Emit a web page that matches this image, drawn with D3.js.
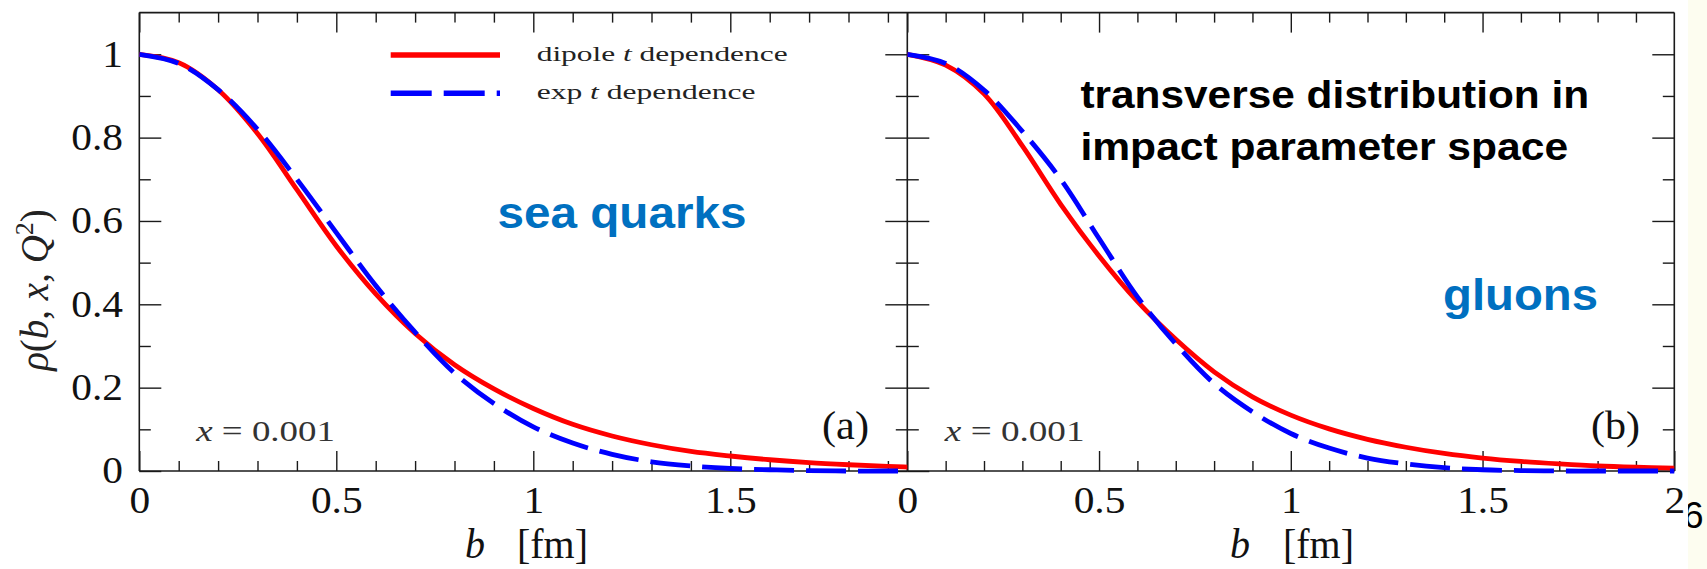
<!DOCTYPE html>
<html><head><meta charset="utf-8">
<script src="https://cdn.jsdelivr.net/npm/d3@7"></script>
<style>body{margin:0;background:#fff;} svg{display:block}</style>
</head><body>
<svg id="c" width="1707" height="569"></svg>
<script>
// ---------- data ----------
const bValues = [0,0.1,0.2,0.3,0.4,0.5,0.6,0.7,0.8,0.9,1.0,1.1,1.2,1.3,1.4,1.5,1.6,1.7,1.8,1.9,2.0];
const seaDipole = [1.0,0.98,0.915,0.81,0.675,0.54,0.425,0.33,0.255,0.197,0.15,0.112,0.084,0.063,0.047,0.036,0.027,0.02,0.015,0.011,0.008];
const seaExp    = [1.0,0.978,0.915,0.82,0.70,0.572,0.445,0.333,0.235,0.162,0.106,0.067,0.04,0.022,0.012,0.006,0.003,0.001,0,0,0];
const gluonDipole = [1.0,0.974,0.905,0.78,0.64,0.516,0.407,0.316,0.238,0.178,0.134,0.101,0.076,0.057,0.042,0.031,0.023,0.017,0.012,0.009,0.007];
const gluonExp    = [1.0,0.978,0.914,0.815,0.70,0.558,0.418,0.305,0.21,0.142,0.09,0.055,0.031,0.017,0.008,0.003,0.001,0,0,0,0];
const xMajorLeft = [0,0.5,1,1.5];
const xMajorRight = [0,0.5,1,1.5,2];
const xMinor = [0.1,0.2,0.3,0.4,0.6,0.7,0.8,0.9,1.1,1.2,1.3,1.4,1.6,1.7,1.8,1.9];
const yMajor = [0,0.2,0.4,0.6,0.8,1];
const yMinor = [0.1,0.3,0.5,0.7,0.9];
const legendLabels = ["dipole", "exp"];
const panelTags = ["(a)", "(b)"];
const panelNames = ["sea quarks", "gluons"];
const xNote = "0.001";

// ---------- setup ----------
const svg = d3.select('#c');
svg.append('rect').attr('width',1707).attr('height',569).attr('fill','#fdfdf0');
svg.append('text').attr('x',1683).attr('y',528).attr('font-family','Liberation Sans, Arial, sans-serif')
   .attr('font-size',37).attr('fill','#000').text('6');
svg.append('rect').attr('width',1688).attr('height',569).attr('fill','#fff');

const SERIF = 'Liberation Serif, Times New Roman, serif';
const SANS = 'Liberation Sans, Arial, sans-serif';
const TS = 1.12; // horizontal stretch of tick labels
const y = d3.scaleLinear().domain([0,1.1]).range([471,12.6]);
const xL = d3.scaleLinear().domain([0,2]).range([139.3,927.3]);
const xR = d3.scaleLinear().domain([0,2]).range([907.3,1674.3]);
const leftEdge = 139.3, midEdge = 907.3, rightEdge = 1674.3;

const defs = svg.append('defs');
defs.append('clipPath').attr('id','clipL').append('rect').attr('x',leftEdge).attr('y',0).attr('width',midEdge-leftEdge).attr('height',569);
defs.append('clipPath').attr('id','clipR').append('rect').attr('x',midEdge).attr('y',0).attr('width',rightEdge-midEdge+1).attr('height',569);

function styleAxis(g){
  g.select('.domain').remove();
  g.selectAll('.tick line').attr('stroke','#1a1a1a').attr('stroke-width',1.4);
  g.selectAll('.tick text').attr('font-family',SERIF).attr('font-size',37).attr('fill','#111');
}
const fmt = d => String(d);
const none = () => '';

function xAxes(x, majors){
  const gb = svg.append('g');
  const lab = gb.append('g').attr('transform',`translate(0,${y(0)})`)
    .call(d3.axisBottom(x).tickValues(majors).tickSize(-20).tickPadding(15.7).tickFormat(fmt)).call(styleAxis);
  lab.selectAll('.tick text').attr('transform',`scale(${TS},1)`);
  gb.append('g').attr('transform',`translate(0,${y(0)})`)
    .call(d3.axisBottom(x).tickValues(xMinor).tickSize(-10).tickFormat(none)).call(styleAxis);
  gb.append('g').attr('transform',`translate(0,${y(1.1)})`)
    .call(d3.axisTop(x).tickValues(majors.filter(v=>v<2)).tickSize(-20).tickFormat(none)).call(styleAxis);
  gb.append('g').attr('transform',`translate(0,${y(1.1)})`)
    .call(d3.axisTop(x).tickValues(xMinor).tickSize(-10).tickFormat(none)).call(styleAxis);
}
function yTicks(xpos, size, labels){
  const g1 = svg.append('g').attr('transform',`translate(${xpos},0)`)
    .call(d3.axisLeft(y).tickValues(yMajor).tickSize(size*22).tickPadding(16.3).tickFormat(labels?fmt:none)).call(styleAxis);
  svg.append('g').attr('transform',`translate(${xpos},0)`)
    .call(d3.axisLeft(y).tickValues(yMinor).tickSize(size*11.5).tickFormat(none)).call(styleAxis);
  if(labels){ g1.selectAll('.tick text').attr('x',-16.3/TS).attr('dy','0.32em').attr('transform',`scale(${TS},1)`); }
}

xAxes(xL, xMajorLeft);
xAxes(xR, xMajorRight);
yTicks(leftEdge, -1, true);
yTicks(midEdge, 1, false);
yTicks(midEdge, -1, false);
yTicks(rightEdge, 1, false);

// frame lines
const frame = svg.append('g').attr('stroke','#1a1a1a').attr('stroke-width',1.6);
[[leftEdge,rightEdge,y(0),y(0)],[leftEdge,rightEdge,y(1.1),y(1.1)],
 [leftEdge,leftEdge,y(0),y(1.1)],[midEdge,midEdge,y(0),y(1.1)],[rightEdge,rightEdge,y(0),y(1.1)]]
 .forEach(([x1,x2,y1,y2])=>frame.append('line').attr('x1',x1).attr('x2',x2).attr('y1',y1).attr('y2',y2));

// curves
function drawCurves(x, dip, ex, clipId){
  const line = d3.line().x((d,i)=>x(bValues[i])).y(d=>y(d)).curve(d3.curveCatmullRom.alpha(0.5));
  const g = svg.append('g').attr('clip-path',`url(#${clipId})`).attr('fill','none');
  g.append('path').attr('d',line(dip)).attr('stroke','#ff0000').attr('stroke-width',4.8);
  g.append('path').attr('d',line(ex)).attr('stroke','#0000ff').attr('stroke-width',4.8).attr('stroke-dasharray','40,12');
}
drawCurves(xL, seaDipole, seaExp, 'clipL');
drawCurves(xR, gluonDipole, gluonExp, 'clipR');

// helper: place a text, stretched horizontally to a measured width
function place(sel, x, yy, w){
  const bb = sel.node().getBBox();
  const s = w/bb.width;
  sel.attr('transform',`translate(${x - bb.x*s},${yy}) scale(${s},1)`);
  return sel;
}

// legend
const legY = [55, 93.3];
svg.append('line').attr('x1',390.7).attr('x2',500).attr('y1',legY[0]).attr('y2',legY[0])
   .attr('stroke','#ff0000').attr('stroke-width',5.5);
svg.append('line').attr('x1',390.7).attr('x2',500).attr('y1',legY[1]).attr('y2',legY[1])
   .attr('stroke','#0000ff').attr('stroke-width',5.5).attr('stroke-dasharray','41,12');
[[legendLabels[0],251],[legendLabels[1],219]].forEach(([lab,w],i)=>{
  const t = svg.append('text').attr('font-family',SERIF).attr('font-size',21).attr('fill','#222');
  t.append('tspan').text(lab+' ');
  t.append('tspan').attr('font-style','italic').text('t');
  t.append('tspan').text(' dependence');
  place(t, 536.7, legY[i]+5.5, w);
});

// x = 0.001 notes
[[195,140],[943.6,141]].forEach(([x0,w])=>{
  const t = svg.append('text').attr('font-family',SERIF).attr('font-size',30).attr('fill','#333').attr('xml:space','preserve');
  t.append('tspan').attr('font-style','italic').text('x');
  t.append('tspan').text(' = '+xNote);
  place(t, x0, 440.7, w);
});

// panel tags
[[822,47],[1591,49]].forEach(([x0,w],i)=>{
  const t = svg.append('text').attr('font-family',SERIF).attr('font-size',40).attr('fill','#111').text(panelTags[i]);
  place(t, x0, 439, w);
});

// axis titles
[[465,517],[1230,1283]].forEach(([xb,xf])=>{
  const t1 = svg.append('text').attr('font-family',SERIF).attr('font-size',42).attr('font-style','italic').attr('fill','#111').text('b');
  place(t1, xb, 558, 20);
  const t2 = svg.append('text').attr('font-family',SERIF).attr('font-size',42).attr('fill','#111').text('[fm]');
  place(t2, xf, 558, 71);
});
{
  const t = svg.append('text').attr('font-family',SERIF).attr('font-size',39).attr('fill','#222')
    .attr('text-anchor','middle').attr('transform','translate(48,290) rotate(-90)');
  t.append('tspan').attr('font-style','italic').text('ρ');
  t.append('tspan').text('(');
  t.append('tspan').attr('font-style','italic').text('b');
  t.append('tspan').text(', ');
  t.append('tspan').attr('font-style','italic').text('x');
  t.append('tspan').text(', ');
  t.append('tspan').attr('font-style','italic').text('Q');
  t.append('tspan').attr('font-size',26).attr('dy',-15).text('2');
  t.append('tspan').attr('dy',15).text(')');
}

// annotations
place(svg.append('text').attr('font-family',SANS).attr('font-weight','bold').attr('font-size',45).attr('fill','#0070c0').text(panelNames[0]), 497.5, 228.3, 249);
place(svg.append('text').attr('font-family',SANS).attr('font-weight','bold').attr('font-size',45).attr('fill','#0070c0').text(panelNames[1]), 1443, 310, 155);
place(svg.append('text').attr('font-family',SANS).attr('font-weight','bold').attr('font-size',39).attr('fill','#000').text('transverse distribution in'), 1080.4, 108.3, 509);
place(svg.append('text').attr('font-family',SANS).attr('font-weight','bold').attr('font-size',39).attr('fill','#000').text('impact parameter space'), 1080.4, 160, 488);
</script>
</body></html>
